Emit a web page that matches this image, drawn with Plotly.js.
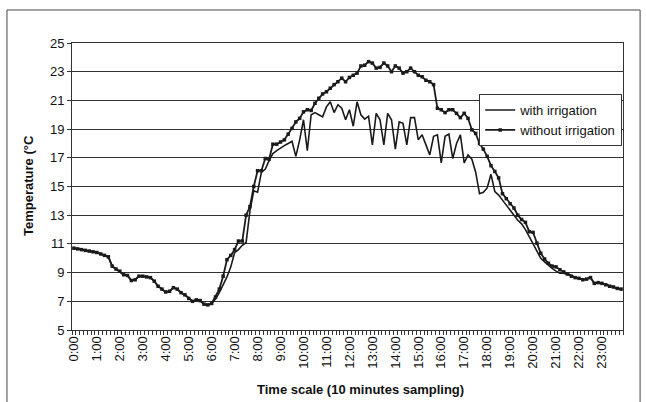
<!DOCTYPE html>
<html>
<head>
<meta charset="utf-8">
<script src="https://cdn.plot.ly/plotly-3.0.1.min.js"></script>
<style>
  html, body { margin: 0; padding: 0; background: #fff; }
  #chart { width: 646px; height: 402px; }
</style>
</head>
<body>
<div id="chart"></div>
<script>
// Time categories: 10-minute sampling, 0:00 .. 23:50
const times = [];
for (let h = 0; h < 24; h++) {
  for (let m = 0; m < 60; m += 10) {
    times.push(h + ':' + (m < 10 ? '0' + m : '' + m));
  }
}
// Hour tick labels
const hourLabels = ['0:00','1:00','2:00','3:00','4:00','5:00','6:00','7:00','8:00','9:00','10:00','11:00',
  '12:00','13:00','14:00','15:00','16:00','17:00','18:00','19:00','20:00','21:00','22:00','23:00'];

// Temperature (°C) with irrigation
const withIrrigation = [
  10.7, 10.65, 10.6, 10.55, 10.5, 10.45,
  10.4, 10.3, 10.2, 10.1, 9.45, 9.25,
  9.1, 8.85, 8.8, 8.45, 8.5, 8.75,
  8.75, 8.7, 8.65, 8.4, 8.05, 7.85,
  7.65, 7.7, 7.95, 7.85, 7.6, 7.45,
  7.2, 7.0, 7.1, 7.05, 6.8, 6.75,
  6.85, 7.15, 7.6, 8.1, 8.7, 9.4,
  10.4, 10.6, 10.9, 11.1, 13.3, 14.7,
  14.6, 16.0, 16.2, 16.8, 17.3, 17.5,
  17.7, 17.85, 18.0, 18.15, 17.1, 18.25,
  19.65, 17.5, 20.0, 20.15, 20.0, 19.85,
  20.55, 20.9, 20.15, 20.7, 20.45, 19.65,
  20.35, 19.2, 20.9, 20.0, 19.7, 19.9,
  17.9, 20.1, 19.65, 17.9, 20.1, 19.65,
  17.6, 19.5, 19.4, 17.9, 19.8, 19.8,
  18.25, 18.6, 17.9, 17.2, 18.5, 18.6,
  16.65, 18.5, 18.65, 16.95, 18.0, 18.6,
  16.65, 17.2, 16.9, 16.0, 14.5, 14.6,
  14.9, 15.85, 14.65, 14.4, 14.05, 13.7,
  13.3, 12.95, 12.65, 12.4, 12.0, 11.5,
  11.0, 10.55, 10.0, 9.75, 9.5, 9.3,
  9.1, 8.95, 8.95, 8.85, 8.75, 8.65,
  8.6, 8.5, 8.55, 8.65, 8.25, 8.3,
  8.25, 8.15, 8.05, 8.0, 7.9, 7.85
];

// Temperature (°C) without irrigation
const withoutIrrigation = [
  10.7, 10.65, 10.6, 10.55, 10.5, 10.45,
  10.4, 10.3, 10.2, 10.1, 9.45, 9.25,
  9.1, 8.85, 8.8, 8.45, 8.5, 8.75,
  8.75, 8.7, 8.65, 8.4, 8.05, 7.85,
  7.65, 7.7, 7.95, 7.85, 7.6, 7.45,
  7.2, 7.0, 7.1, 7.05, 6.8, 6.75,
  6.85, 7.3, 7.85, 8.75, 9.9, 10.2,
  10.6, 11.2, 11.2, 13.0, 13.6, 15.0,
  16.1, 16.1, 16.95, 16.9, 17.95, 17.95,
  18.1, 18.25, 18.65, 19.05, 19.5, 19.75,
  20.2, 20.35, 20.3, 20.8, 21.15, 21.45,
  21.6, 21.85, 22.1, 22.3, 22.55, 22.3,
  22.6, 22.75, 22.9, 23.4, 23.45, 23.7,
  23.6, 23.25, 23.3, 23.6, 23.4, 23.0,
  23.4, 23.25, 22.9, 23.0, 23.25, 23.0,
  22.75, 22.65, 22.4, 22.3, 22.1, 20.45,
  20.35, 20.15, 20.35, 20.35, 20.1, 19.8,
  20.1, 19.75, 18.95, 18.7, 18.0, 17.6,
  17.1, 16.45, 16.05, 15.6, 14.5, 14.15,
  13.8, 13.5, 13.0, 12.7, 12.5, 11.85,
  11.8, 11.05, 10.35, 9.95, 9.65, 9.45,
  9.4, 9.2, 9.05, 8.9, 8.75, 8.65,
  8.6, 8.5, 8.55, 8.65, 8.25, 8.3,
  8.25, 8.15, 8.05, 8.0, 7.9, 7.85
];

const FONT = '"Liberation Sans", Arial, sans-serif';
const INK = '#1a1a1a';

const tickText = times.map(t => hourLabels.indexOf(t) >= 0 ? t : '');

const traces = [
  {
    type: 'scatter', mode: 'lines', name: 'with irrigation',
    x: times, y: withIrrigation,
    line: { color: INK, width: 1.6 }
  },
  {
    type: 'scatter', mode: 'lines+markers', name: 'without irrigation',
    x: times, y: withoutIrrigation,
    line: { color: INK, width: 1.8 },
    marker: { symbol: 'square', size: 3.5, color: INK }
  }
];

const layout = {
  width: 646, height: 402,
  margin: { l: 72, r: 23, t: 43, b: 72 },
  paper_bgcolor: '#ffffff', plot_bgcolor: '#ffffff',
  font: { family: FONT, size: 13, color: '#111' },
  showlegend: true,
  legend: {
    x: 0.739, y: 0.822, xanchor: 'left', yanchor: 'top',
    bgcolor: '#ffffff', bordercolor: '#333', borderwidth: 1,
    font: { family: FONT, size: 13, color: '#111' },
    itemwidth: 30
  },
  xaxis: {
    type: 'category',
    categoryorder: 'array', categoryarray: times,
    range: [-0.5, times.length - 0.5],
    tickmode: 'array', tickvals: times, ticktext: tickText,
    tickson: 'boundaries',
    ticks: 'outside', ticklen: 4, tickwidth: 1, tickcolor: '#333',
    tickangle: -90,
    tickfont: { family: FONT, size: 13, color: '#111' },
    showgrid: false, zeroline: false,
    showline: true, linecolor: '#333', linewidth: 1, mirror: true,
    automargin: false
  },
  yaxis: {
    range: [5, 25], tick0: 5, dtick: 2, tickmode: 'linear',
    ticks: 'outside', ticklen: 4, tickwidth: 1, tickcolor: '#333',
    tickfont: { family: FONT, size: 13, color: '#111' },
    showgrid: true, gridcolor: '#333', gridwidth: 1,
    zeroline: false,
    showline: true, linecolor: '#333', linewidth: 1, mirror: true,
    automargin: false
  },
  annotations: [
    {
      text: '<b>Time scale (10 minutes sampling)</b>',
      xref: 'paper', yref: 'paper', x: 0.5227, y: -0.209,
      xanchor: 'center', yanchor: 'middle', showarrow: false,
      font: { family: FONT, size: 13, color: '#111' }
    },
    {
      text: '<b>Temperature (°C</b>',
      xref: 'paper', yref: 'paper', x: -0.078, y: 0.502,
      xanchor: 'center', yanchor: 'middle', showarrow: false, textangle: -90,
      font: { family: FONT, size: 13, color: '#111' }
    }
  ],
  shapes: [
    {
      type: 'rect', xref: 'paper', yref: 'paper', layer: 'above',
      x0: -0.118, x1: 1.031, y0: -0.3, y1: 1.115,
      line: { color: '#444', width: 1 }, fillcolor: 'rgba(0,0,0,0)'
    }
  ]
};

Plotly.newPlot('chart', traces, layout, { displayModeBar: false, staticPlot: true });
</script>
</body>
</html>
